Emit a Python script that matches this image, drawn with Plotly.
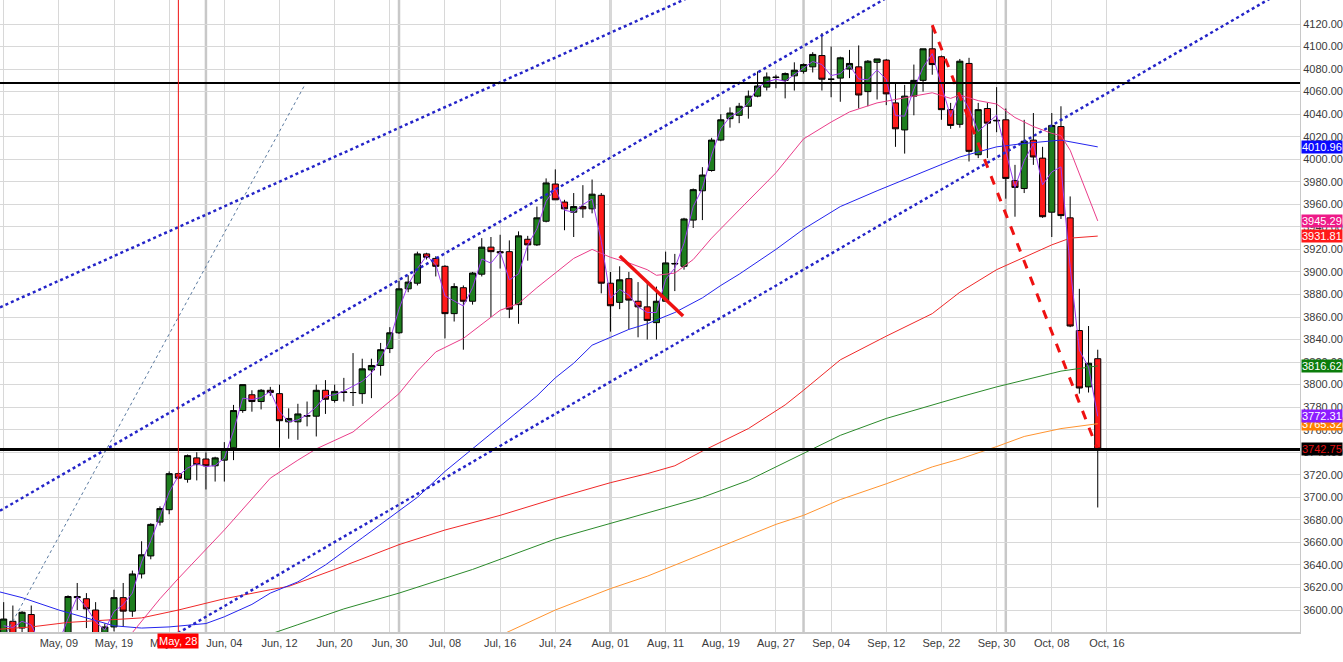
import plotly.graph_objects as go

# candle index (trading sessions), last one is the day before Oct 16
idx = list(range(120))

opens = [3575, 3590, 3584, 3596, 3577, 3565, 3571, 3575, 3612, 3610,
         3600, 3580, 3585, 3611, 3599, 3632, 3648, 3678, 3689, 3721,
         3716, 3735, 3734, 3728, 3733, 3744, 3777, 3791, 3785, 3795,
         3792, 3767, 3767, 3772, 3772, 3795, 3786, 3793, 3793, 3792,
         3813, 3817, 3832, 3846, 3885, 3890, 3916, 3912, 3905, 3863,
         3886, 3874, 3898, 3922, 3918, 3918, 3871, 3929, 3924, 3945,
         3978, 3962, 3953, 3958, 3956, 3968, 3890, 3873, 3894, 3874,
         3869, 3855, 3874, 3907, 3905, 3946, 3972, 3990, 4017, 4036,
         4039, 4047, 4056, 4064, 4073, 4070, 4074, 4078, 4082, 4092,
         4071, 4072, 4080, 4082, 4060, 4086, 4088, 4050, 4026, 4056,
         4070, 4098, 4091, 4044, 4031, 4085, 4004, 4045, 4034, 4035,
         3981, 3974, 4017, 4001, 3953, 4029, 3948, 3848, 3798, 3823]
highs = [3607, 3604, 3599, 3604, 3579, 3576, 3578, 3613, 3624, 3615,
         3607, 3588, 3618, 3624, 3635, 3661, 3677, 3692, 3723, 3722,
         3738, 3740, 3740, 3736, 3749, 3782, 3800, 3795, 3796, 3798,
         3800, 3779, 3783, 3785, 3800, 3804, 3800, 3806, 3828, 3823,
         3823, 3837, 3851, 3892, 3897, 3918, 3917, 3914, 3906, 3890,
         3888, 3900, 3930, 3931, 3933, 3928, 3936, 3932, 3958, 3983,
         3991, 3964, 3970, 3977, 3982, 3970, 3900, 3905, 3900, 3891,
         3890, 3887, 3918, 3916, 3948, 3974, 3993, 4019, 4040, 4046,
         4050, 4061, 4078, 4077, 4075, 4077, 4086, 4085, 4095, 4112,
         4100, 4091, 4097, 4101, 4088, 4089, 4089, 4067, 4066, 4084,
         4098, 4118, 4092, 4050, 4089, 4090, 4050, 4050, 4064, 4045,
         3995, 4035, 4041, 4011, 4041, 4047, 3967, 3885, 3852, 3831]
lows = [3570, 3568, 3579, 3570, 3560, 3555, 3562, 3570, 3600, 3584,
        3572, 3576, 3581, 3585, 3594, 3628, 3645, 3675, 3685, 3716,
        3713, 3715, 3707, 3714, 3714, 3733, 3775, 3776, 3778, 3790,
        3744, 3752, 3751, 3763, 3754, 3774, 3784, 3785, 3781, 3783,
        3788, 3808, 3828, 3845, 3882, 3888, 3911, 3896, 3841, 3856,
        3831, 3871, 3896, 3860, 3903, 3859, 3854, 3910, 3923, 3944,
        3964, 3937, 3931, 3948, 3952, 3881, 3847, 3867, 3849, 3842,
        3840, 3840, 3874, 3883, 3902, 3939, 3946, 3989, 4016, 4028,
        4032, 4036, 4055, 4061, 4063, 4054, 4061, 4076, 4077, 4061,
        4055, 4051, 4072, 4045, 4047, 4053, 4048, 4011, 4005, 4039,
        4060, 4075, 4035, 4027, 4028, 3998, 4001, 4001, 4024, 3965,
        3949, 3970, 3995, 3948, 3931, 3947, 3851, 3792, 3793, 3691]
closes = [3592, 3576, 3598, 3577, 3565, 3571, 3574, 3612, 3611, 3601,
          3579, 3585, 3611, 3599, 3632, 3649, 3676, 3690, 3721, 3717,
          3737, 3729, 3728, 3735, 3743, 3777, 3800, 3785, 3795, 3793,
          3768, 3770, 3774, 3772.5, 3795, 3787, 3794, 3793.5, 3793, 3814,
          3817, 3831, 3846, 3885, 3891, 3916, 3913, 3905, 3863, 3887,
          3874, 3899, 3922, 3918, 3917, 3867, 3932, 3924, 3948, 3979,
          3964, 3956, 3958, 3956, 3969, 3890, 3870, 3893, 3875, 3869,
          3857, 3874, 3908, 3907.5, 3947, 3973, 3986, 4017, 4035, 4041,
          4047, 4056, 4065, 4073, 4072.5, 4076, 4079, 4084, 4093, 4071,
          4071, 4090, 4085, 4057, 4087, 4089, 4058, 4027, 4056, 4070,
          4098, 4084, 4044, 4030, 4087, 4007, 4044, 4032, 4034.5, 3983,
          3975, 4016, 4002, 3949, 4030, 3950, 3852, 3797, 3819, 3742.75]

# average-price line of the platform (OHLC / 4)
avg_price = [(o + h + l + c) / 4 for o, h, l, c in zip(opens, highs, lows, closes)]

# moving averages (index, value)
ma20_x = [13, 14, 17, 19, 24, 29, 32, 34, 38, 41, 43, 45, 47, 50, 54, 56, 58, 60, 62,
          64, 66, 68, 70, 71, 73, 75, 77, 80, 84, 87, 90, 92, 95, 97, 100, 101, 103,
          104, 106, 108, 110, 112, 114, 115, 116, 117.5, 119]
ma20_y = [3572, 3580, 3610, 3628, 3671, 3717, 3733, 3743, 3758, 3778, 3792, 3812, 3829,
          3841, 3866, 3872, 3886, 3899, 3912, 3920, 3913, 3908, 3902, 3897, 3899, 3911,
          3930, 3955, 3988, 4018, 4033, 4042, 4050, 4053, 4057, 4059, 4054, 4057, 4052,
          4049, 4037, 4029, 4023, 4021, 4008, 3976, 3945.29]
ma50_x = [-0.4, 2, 6, 9, 12, 15, 18, 22, 24, 27, 29, 32, 35, 39, 45, 48, 51, 54, 58,
          60, 62, 64, 66, 68, 70, 73, 76, 78, 80, 84, 87, 91, 95, 98, 102, 104, 108,
          111, 115, 117, 119]
ma50_y = [3616, 3611, 3600, 3593, 3586, 3584, 3585, 3588, 3594, 3605, 3615, 3625, 3640,
          3664, 3700, 3723, 3743, 3763, 3790, 3806, 3819, 3835, 3842, 3849, 3854, 3864,
          3877, 3888, 3898, 3920, 3938, 3958, 3972, 3982, 3996, 4002, 4011, 4014, 4017,
          4014, 4010.96]
ma100_x = [-0.4, 3, 7, 11, 13, 15, 19, 24, 29, 31, 33, 36, 43, 48, 54, 60, 66, 70, 73,
           76, 81, 85, 87, 91, 96, 101, 104, 108, 111, 114, 116, 119]
ma100_y = [3583, 3585, 3589, 3591, 3592, 3593, 3600, 3610, 3618, 3621, 3627, 3636, 3658,
           3671, 3684, 3699, 3713, 3721, 3728, 3741, 3761, 3782, 3795, 3822, 3843, 3863,
           3882, 3902, 3913, 3924, 3930, 3931.81]
ma200_x = [28, 29.5, 32, 37, 43, 51, 60, 66, 70, 76, 81, 84, 87, 91, 96, 101, 104, 108,
           111, 115, 119]
ma200_y = [3575, 3580, 3587, 3601, 3615, 3636, 3663, 3677, 3686, 3700, 3715, 3727, 3739,
           3755, 3770, 3782, 3789, 3798, 3804, 3812, 3816.62]
ema_x = [53, 54.7, 60, 66, 70, 76, 84, 87, 91, 96, 101, 104, 108, 111, 115, 119]
ema_y = [3575, 3580, 3600, 3619, 3630, 3650, 3676, 3684, 3698, 3712, 3727, 3734, 3745,
         3754, 3761, 3765.32]

# drawn objects (index, value pairs)
levels = [4067.7, 3742.5]
level_widths = [2, 3]
channel_top_x, channel_top_y = [-0.4, 80], [3868.6, 4163.6]
channel_mid_x, channel_mid_y = [-0.4, 100], [3688.1, 4161.9]
channel_low_x, channel_low_y = [15, 141], [3560.8, 4158.0]
fan_x, fan_y = [0.36, 32.75], [3580.5, 4065.9]
pullback_x, pullback_y = [67.0, 73.9], [3914.1, 3860.9]
drop_x, drop_y = [101.0, 119.0], [4119.0, 3742.0]
cursor_idx = 19
month_starts = [22, 43, 66, 87, 109]

tick_idx = list(range(0, 121, 6))
tick_text = ["", "May, 09", "May, 19", "May, 27", "Jun, 04", "Jun, 12", "Jun, 20",
             "Jun, 30", "Jul, 08", "Jul, 16", "Jul, 24", "Aug, 01", "Aug, 11", "Aug, 19",
             "Aug, 27", "Sep, 04", "Sep, 12", "Sep, 22", "Sep, 30", "Oct, 08", "Oct, 16"]
y_ticks = list(range(3600, 4121, 20))

# last-value boxes on the price scale (orange goes under purple)
box_values = [4010.96, 3945.29, 3931.81, 3816.62, 3765.32, 3772.31, 3742.75]
box_bg = ["#0a0aff", "#ee1a88", "#ff1a1a", "#0b7d0b", "#ff8000", "#8c1cff", "#000000"]
box_fg = ["white", "white", "white", "white", "white", "white", "#e01010"]

FONT = "Liberation Sans, Arial, sans-serif"

fig = go.Figure()

fig.add_trace(go.Candlestick(
    x=idx, open=opens, high=highs, low=lows, close=closes,
    increasing=dict(line=dict(color="black", width=1), fillcolor="#1e7e1e"),
    decreasing=dict(line=dict(color="black", width=1), fillcolor="#ff1a1a"),
    whiskerwidth=0, showlegend=False, hoverinfo="skip"))

for xs, ys, col in [(ma200_x, ma200_y, "#2b8a2b"), (ema_x, ema_y, "#ff9430"),
                    (ma100_x, ma100_y, "#f02828"), (ma50_x, ma50_y, "#2424ee"),
                    (ma20_x, ma20_y, "#ea3d8a")]:
    fig.add_trace(go.Scatter(x=xs, y=ys, mode="lines", line=dict(color=col, width=1),
                             showlegend=False, hoverinfo="skip"))

fig.add_trace(go.Scatter(x=idx, y=avg_price, mode="lines",
                         line=dict(color="#9a3cf0", width=1),
                         showlegend=False, hoverinfo="skip"))

# trend lines
for xs, ys in [(channel_top_x, channel_top_y), (channel_mid_x, channel_mid_y),
               (channel_low_x, channel_low_y)]:
    fig.add_trace(go.Scatter(x=xs, y=ys, mode="lines",
                             line=dict(color="#2424c8", width=2.5, dash="dot"),
                             showlegend=False, hoverinfo="skip"))
fig.add_trace(go.Scatter(x=fan_x, y=fan_y, mode="lines",
                         line=dict(color="#5a7aa0", width=1, dash="dot"),
                         showlegend=False, hoverinfo="skip"))
fig.add_trace(go.Scatter(x=pullback_x, y=pullback_y, mode="lines",
                         line=dict(color="#ee1111", width=3.5),
                         showlegend=False, hoverinfo="skip"))
fig.add_trace(go.Scatter(x=drop_x, y=drop_y, mode="lines",
                         line=dict(color="#ee1111", width=3, dash="dash"),
                         showlegend=False, hoverinfo="skip"))

shapes = []
for m in month_starts:
    shapes.append(dict(type="line", xref="x", yref="paper", x0=m, x1=m, y0=0, y1=1,
                       line=dict(color="#c8c8c8", width=2.5), layer="below"))
for lv, w in zip(levels, level_widths):
    shapes.append(dict(type="line", xref="paper", yref="y", x0=0, x1=1, y0=lv, y1=lv,
                       line=dict(color="black", width=w)))
shapes.append(dict(type="line", xref="x", yref="paper", x0=cursor_idx, x1=cursor_idx,
                   y0=0, y1=1, line=dict(color="#ee1111", width=1)))

annotations = []
for v, bg, fg in zip(box_values, box_bg, box_fg):
    annotations.append(dict(xref="paper", yref="y", x=1, y=v, xanchor="left",
                            yanchor="middle", text=f"{v:.2f}", showarrow=False,
                            bgcolor=bg, font=dict(color=fg, size=11, family=FONT),
                            borderpad=0, xshift=1))
annotations.append(dict(xref="x", yref="paper", x=cursor_idx, y=0, yanchor="top",
                        xanchor="center", text="May, 28", showarrow=False,
                        bgcolor="#ff0000", font=dict(color="white", size=11, family=FONT),
                        borderpad=1, yshift=-1))

fig.update_layout(
    width=1343, height=662,
    margin=dict(l=0, r=43, t=0, b=30),
    paper_bgcolor="white", plot_bgcolor="white",
    font=dict(family=FONT, size=11, color="#3a3a3a"),
    hovermode=False,
    boxgap=0.05,
    shapes=shapes, annotations=annotations,
    xaxis=dict(range=[-0.4, 141], tickvals=tick_idx, ticktext=tick_text,
               showgrid=True, gridcolor="#d8d8d8", gridwidth=1, zeroline=False,
               showline=True, linecolor="#c8c8c8", linewidth=2, ticks="",
               rangeslider=dict(visible=False), fixedrange=True),
    yaxis=dict(range=[3580.5, 4141.3], side="right", tickvals=y_ticks,
               tickformat=".2f", showgrid=True, gridcolor="#d8d8d8", gridwidth=1,
               zeroline=False, showline=True, linecolor="#c8c8c8", linewidth=1,
               ticks="", fixedrange=True),
)

fig.write_html("out.html", config={"displayModeBar": False},
               post_script="document.body.style.margin='0';")
